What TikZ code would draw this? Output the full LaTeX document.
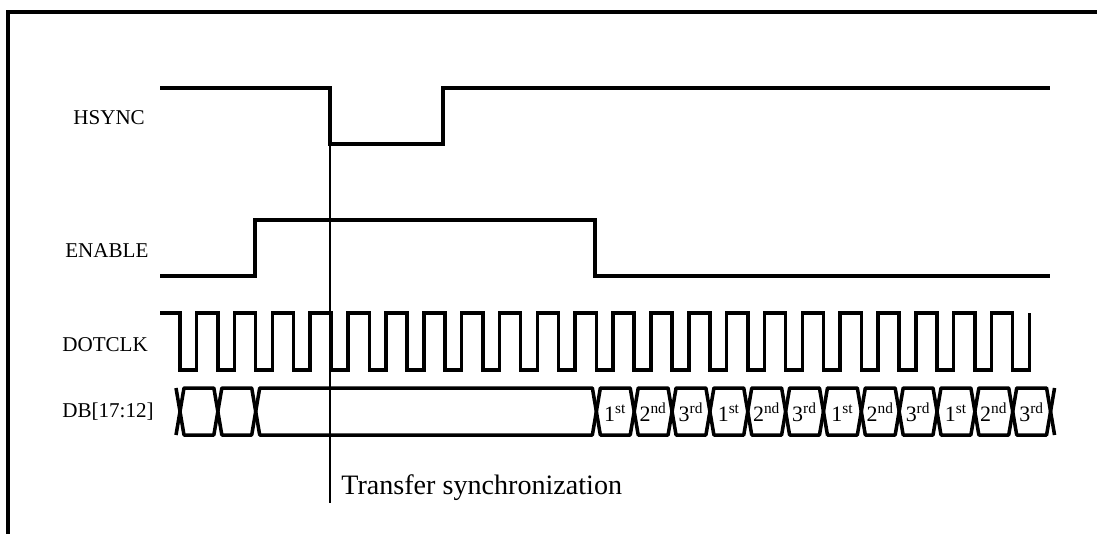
\documentclass[tikz,border=0pt]{standalone}
\usepackage{fontspec}
\setmainfont{Liberation Serif}

\begin{document}
\begin{tikzpicture}[x=0.02cm, y=-0.02cm,
    wave/.style={line width=2pt, line join=miter},
    bus/.style={line width=2pt, line join=round},
    frame/.style={line width=1.8pt},
    syncline/.style={line width=0.9pt},
    lbl/.style={anchor=base west, inner sep=0pt, font=\fontsize{12}{14}\selectfont},
    cell/.style={anchor=base, inner sep=0pt, font=\fontsize{12.5}{14}\selectfont}]
    \useasboundingbox (0,0) rectangle (1097,534);

    % frame
    \draw[frame] (1097,12) -- (8,12) -- (8,534);

    % signal names
    \node[lbl] (hsync) at (73,124) {HSYNC};
    \node[lbl] (enable) at (65,257) {ENABLE};
    \node[lbl] (dotclk) at (62,351) {DOTCLK};
    \node[lbl] (db) at (62,417) {DB[17:12]};

    % HSYNC and ENABLE
    \draw[wave] (160,88) -- (330,88) -- (330,144) -- (443,144) -- (443,88) -- (1050,88);
    \draw[wave] (160,276) -- (255,276) -- (255,220) -- (595,220) -- (595,276) -- (1050,276);

    % DOTCLK
    \draw[wave] (160,313)
      foreach \k in {0,...,22} {
        -- ({180+37.85*\k},313) -- ({180+37.85*\k},370)
        -- ({196.7+37.85*\k},370) -- ({196.7+37.85*\k},313)
      };

    % DB[17:12]
    \foreach \a/\b in {0/1,1/2,2/11,11/12,12/13,13/14,14/15,15/16,16/17,17/18,18/19,19/20,20/21,21/22,22/23}
      \draw[bus] ({180+37.85*\a},411.5) -- ({184+37.85*\a},388) -- ({176+37.85*\b},388)
        -- ({180+37.85*\b},411.5) -- ({176+37.85*\b},435) -- ({184+37.85*\a},435) -- cycle;
    \draw[bus] (176,388) -- (180,411.5) -- (176,435);
    \draw[bus] ({184+37.85*23},388) -- ({180+37.85*23},411.5) -- ({184+37.85*23},435);
    \foreach \g in {0,...,3}
      \foreach \n/\sfx [count=\j from 0] in {1/st,2/nd,3/rd}
        \node[cell] (c\g\n) at ({180+37.85*(11.5+3*\g+\j)},421) {\n\textsuperscript{\sfx}};

    % transfer synchronization
    \coordinate (syncTop) at (330,144);
    \coordinate (syncBot) at (330,503);
    \draw[syncline] (syncTop) -- (syncBot);
    \node[anchor=base west, inner sep=0pt, font=\fontsize{16}{18}\selectfont] (sync) at (341,494) {Transfer synchronization};
\end{tikzpicture}
\end{document}
